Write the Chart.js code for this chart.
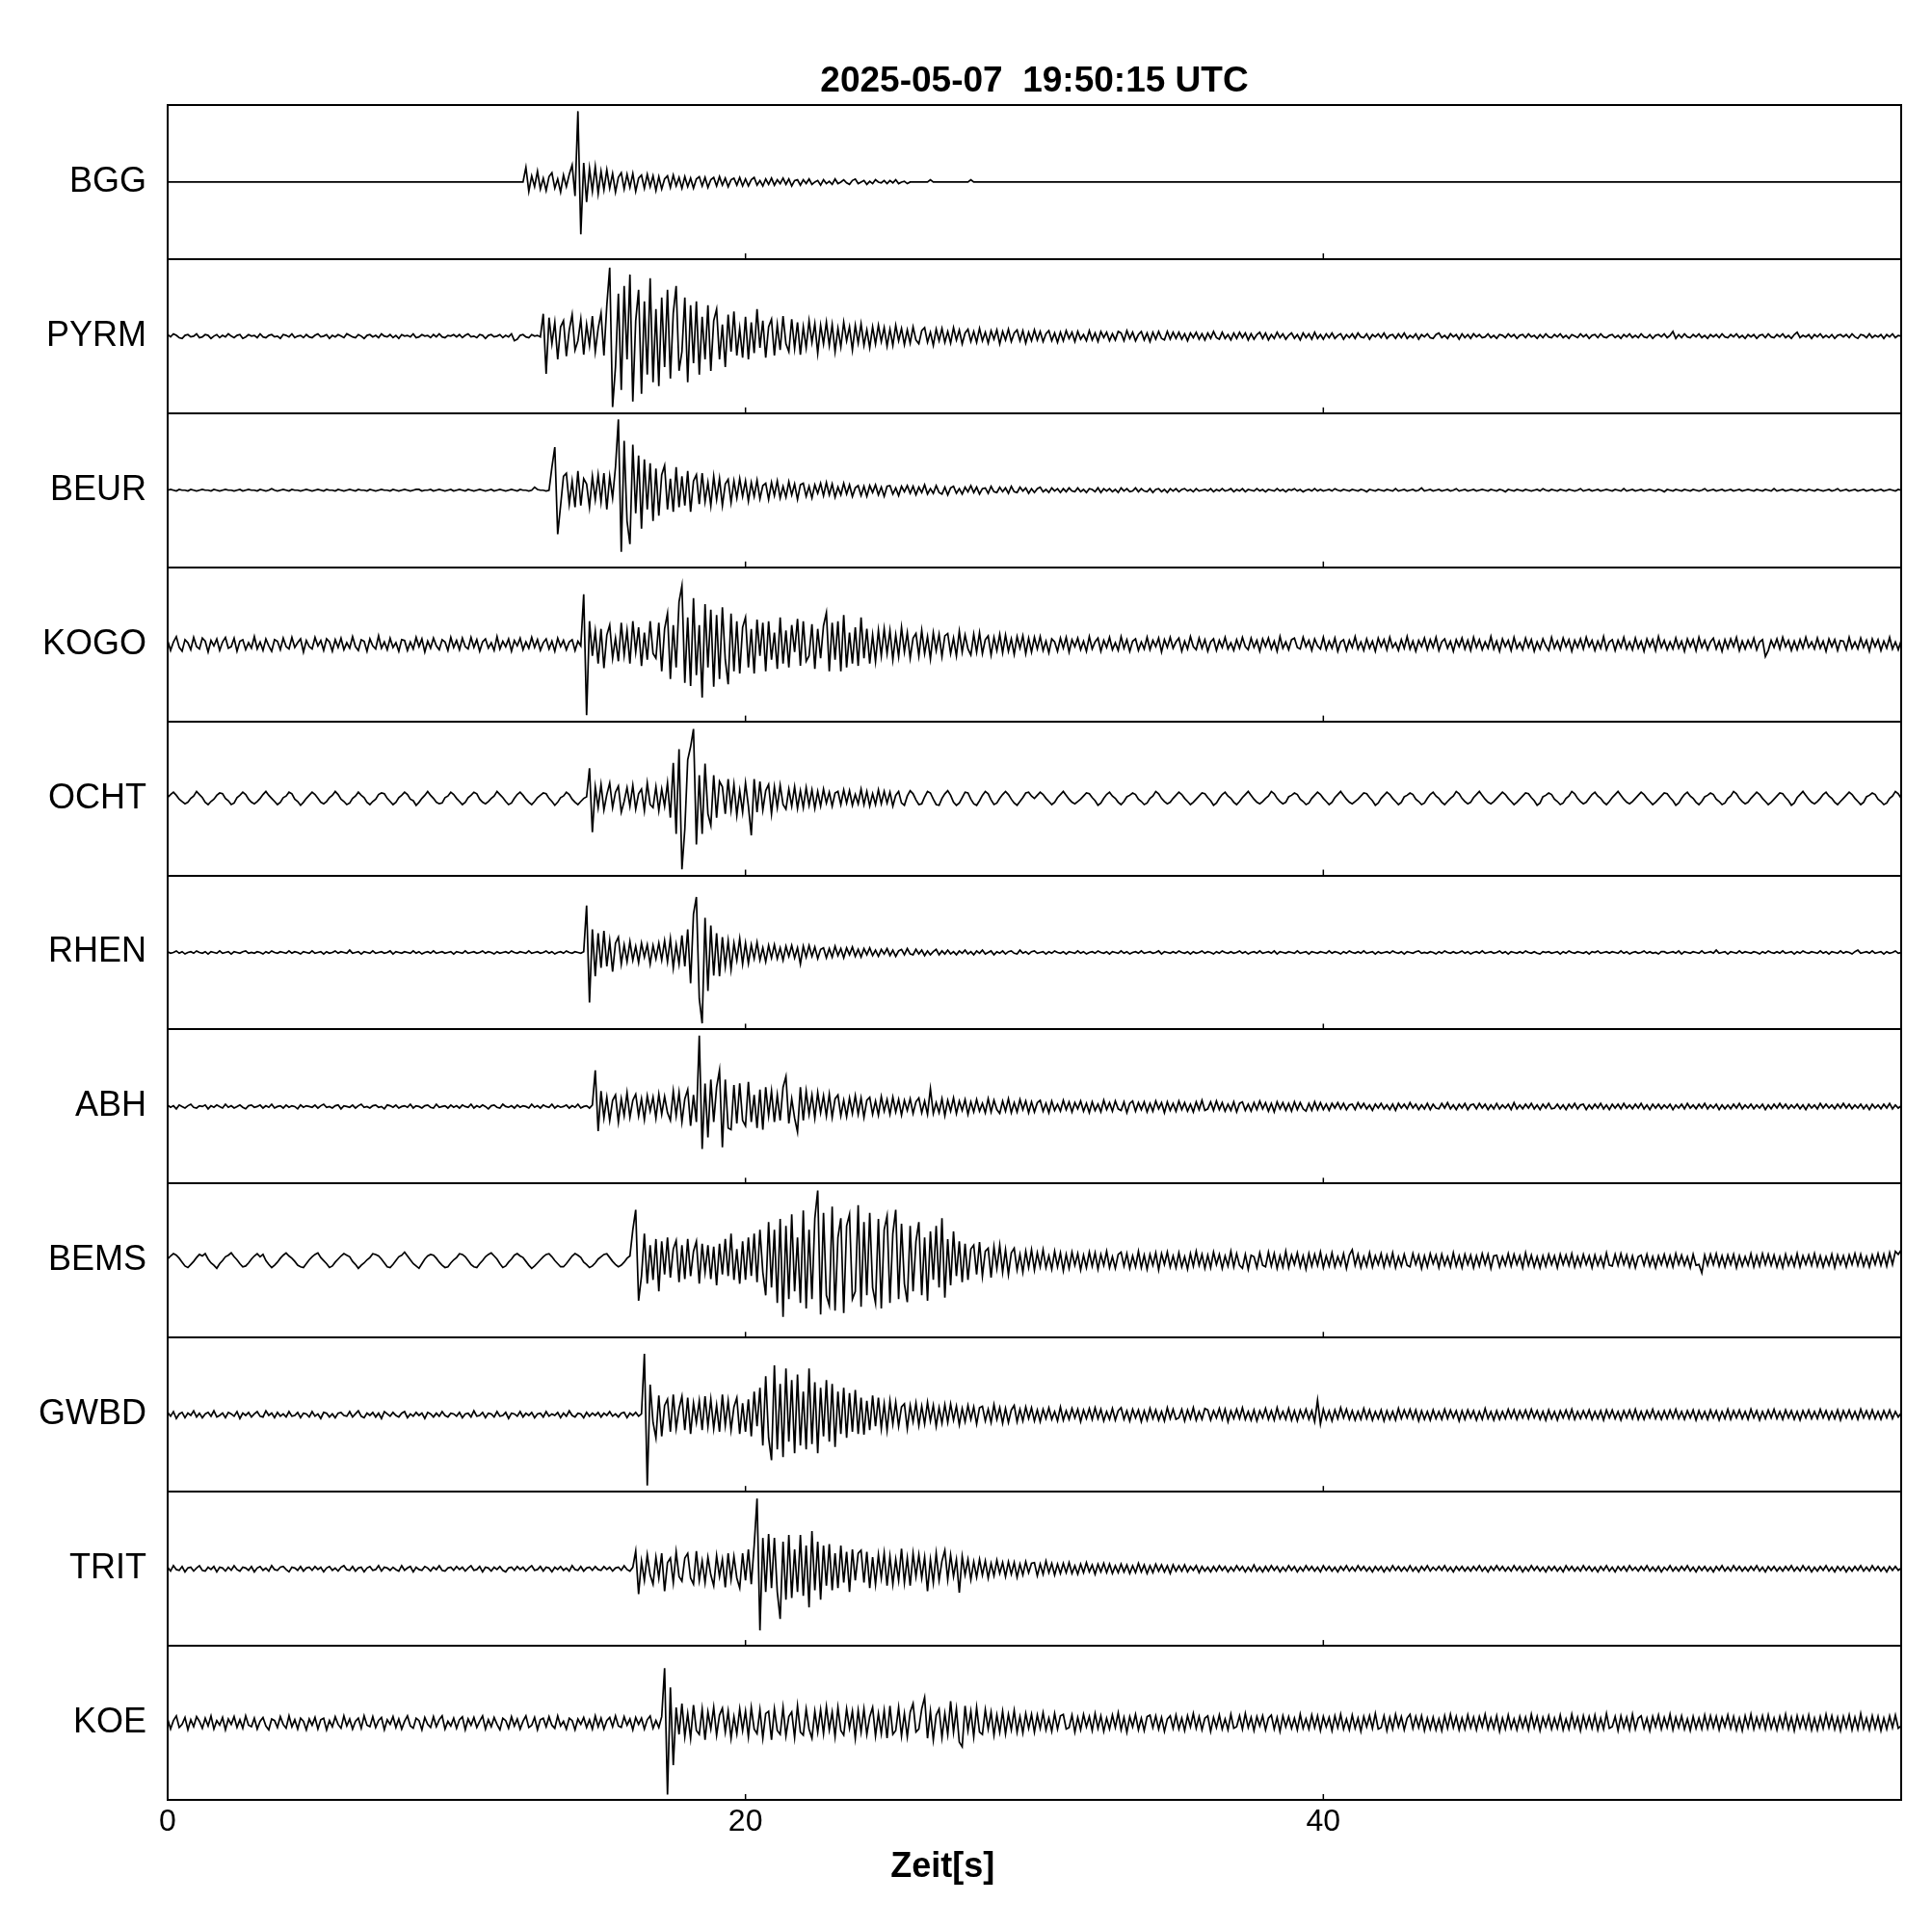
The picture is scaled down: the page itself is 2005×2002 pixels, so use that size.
<!DOCTYPE html>
<html>
<head>
<meta charset="utf-8">
<script src="https://cdn.jsdelivr.net/npm/chart.js@4.4.1/dist/chart.umd.min.js"></script>
<style>
  html, body { margin: 0; padding: 0; background: #fff; }
  canvas { display: block; }
</style>
</head>
<body>
<canvas id="seismo" width="2005" height="2002"></canvas>
<script>
// sample interval of the traces in seconds, amplitudes in % of half a panel
const dt = 0.1;
const stations = ['BGG', 'PYRM', 'BEUR', 'KOGO', 'OCHT', 'RHEN', 'ABH', 'BEMS', 'GWBD', 'TRIT', 'KOE'];
const xTicks = [0, 20, 40];
const titleText = '2025-05-07  19:50:15 UTC';
const xLabel = 'Zeit[s]';

const bgg = [
  0,0,0,0,0,0,0,0,0,0, 0,0,0,0,0,0,0,0,0,0, 0,0,0,0,0,0,0,0,0,0, 0,0,0,0,0,0,0,0,0,0, 0,0,0,0,0,0,0,0,0,0,
  0,0,0,0,0,0,0,0,0,0, 0,0,0,0,0,0,0,0,0,0, 0,0,0,0,0,0,0,0,0,0, 0,0,0,0,0,0,0,0,0,0, 0,0,0,0,0,0,0,0,0,0,
  0,0,0,0,0,0,0,0,0,0, 0,0,0,0,0,0,0,0,0,0, 0,0,0,0,19,-12,8,-6,14,-9, 5,-11,7,12,-8,4,-13,9,-6,10, 22,-18,92,-68,25,-26,18,-12,20,-15,
  14,-10,16,-8,11,-13,6,12,-9,10, -7,11,-12,5,9,-8,10,-6,8,-11, 7,-9,4,8,-7,9,-5,6,-8,7, -6,5,-8,4,7,-5,6,-7,3,6, -5,7,-4,5,-6,3,5,-4,6,-5,
  4,-5,3,6,-4,2,-5,4,-3,5, -4,3,-2,5,-3,4,-5,2,3,-4, 3,-2,4,-3,0,2,-4,3,-2,1, -3,4,-2,0,3,-1,-3,2,4,-2, 0,2,-3,1,-2,3,0,-1,2,-2,
  2,-1,3,-2,0,1,-2,0,0,0, 0,0,0,0,3,0,0,0,0,0, 0,0,0,0,0,0,0,0,3,0, 0,0,0,0,0,0,0,0,0,0, 0,0,0,0,0,0,0,0,0,0,
  0,0,0,0,0,0,0,0,0,0, 0,0,0,0,0,0,0,0,0,0, 0,0,0,0,0,0,0,0,0,0, 0,0,0,0,0,0,0,0,0,0, 0,0,0,0,0,0,0,0,0,0,
  0,0,0,0,0,0,0,0,0,0, 0,0,0,0,0,0,0,0,0,0, 0,0,0,0,0,0,0,0,0,0, 0,0,0,0,0,0,0,0,0,0, 0,0,0,0,0,0,0,0,0,0,
  0,0,0,0,0,0,0,0,0,0, 0,0,0,0,0,0,0,0,0,0, 0,0,0,0,0,0,0,0,0,0, 0,0,0,0,0,0,0,0,0,0, 0,0,0,0,0,0,0,0,0,0,
  0,0,0,0,0,0,0,0,0,0, 0,0,0,0,0,0,0,0,0,0, 0,0,0,0,0,0,0,0,0,0, 0,0,0,0,0,0,0,0,0,0, 0,0,0,0,0,0,0,0,0,0,
  0,0,0,0,0,0,0,0,0,0, 0,0,0,0,0,0,0,0,0,0, 0,0,0,0,0,0,0,0,0,0, 0,0,0,0,0,0,0,0,0,0, 0,0,0,0,0,0,0,0,0,0,
  0,0,0,0,0,0,0,0,0,0, 0,0,0,0,0,0,0,0,0,0, 0,0,0,0,0,0,0,0,0,0, 0,0,0,0,0,0,0,0,0,0, 0,0,0,0,0,0,0,0,0,0,
  0
];
const pyrm = [
  2,-1,3,1,-2,-3,1,2,-1,0, 3,-2,-1,2,1,-3,0,2,-2,1, -1,3,0,-2,1,2,-3,-1,2,0, 1,-2,3,-1,-2,1,2,-1,0,-3, 2,1,-1,3,-2,0,1,-2,2,-1,
  -2,1,3,-1,0,2,-3,1,-1,2, 0,-2,3,1,-1,-2,2,0,-3,1, 2,-1,1,-2,3,0,-1,2,-2,1, -3,2,0,1,-1,3,-2,-1,2,0, 1,-2,2,-1,3,-1,-2,1,0,2,
  -1,2,-2,1,3,-1,0,-2,2,1, -3,1,2,-1,0,2,-2,1,-1,3, -6,-4,1,2,-1,-2,2,0,1,-1, 29,-49,24,-10,18,-30,12,20,-26,8, 28,-18,-6,22,-24,15,-12,26,-20,10,
  30,-25,40,89,-92,-40,55,-70,65,-30, 80,-85,20,60,-75,45,-50,75,-60,35, -65,50,-40,60,-55,30,65,-45,-20,50, -60,40,-35,45,-50,25,-30,40,-45,20, 35,-30,15,-40,28,-20,32,-25,10,-28,
  25,-30,18,-22,35,-15,20,-28,12,22, -25,15,-18,26,-10,-20,22,-16,18,-24, 12,-15,20,-8,16,-22,14,-10,18,-12, 15,-20,10,-14,18,-6,12,-18,14,-9, 16,-12,8,-15,12,-10,14,-7,11,-13,
  9,-12,14,-6,10,-11,8,-9,12,-5, -10,7,11,-8,5,-12,9,-6,10,-8, 6,-9,11,-5,8,-10,4,9,-7,6, -8,10,-6,5,-9,7,-4,8,-10,6, -5,9,-7,4,8,-6,7,-9,5,-6,
  8,-5,6,-7,3,7,-6,4,-8,5, -6,7,-3,5,-7,6,-4,2,-6,7, -5,4,-7,6,-2,5,-6,3,-5,6, 4,-6,7,-3,5,-6,2,6,-5,4, -7,5,-4,6,-3,-5,6,-4,5,-3,
  5,-4,3,-6,4,-2,5,-4,3,-5, 4,-3,6,-2,-4,5,-3,2,-5,4, -3,5,-2,4,-5,3,-4,2,5,-3, 4,-5,2,-3,5,-2,3,-4,1,4, -3,2,-5,4,-2,3,-4,5,-3,2,
  -4,3,-2,4,-3,1,3,-4,2,-2, 3,-3,4,-1,-2,3,-4,2,-1,3, -2,4,-3,1,2,-3,3,-2,4,-3, 1,-2,3,-4,2,-1,3,-2,-3,2, 4,-2,1,-3,3,-1,2,-4,3,-2,
  2,-3,3,-1,2,-2,-1,3,-2,1, -3,2,1,-2,3,-1,2,-3,1,2, -2,3,-1,1,-3,2,-2,3,-1,-2, 2,-1,3,-2,1,-3,2,0,-2,3, -1,2,-3,1,2,-2,3,-1,-2,1,
  2,-2,1,-3,2,-1,3,-2,1,-2, 3,-1,-2,2,-3,1,2,-1,3,-2, 1,6,-3,2,-2,3,-1,-2,2,-1, 3,-2,1,-3,2,-1,2,-2,3,-1, -2,2,-1,3,-2,1,-3,2,-1,2,
  -3,1,2,-2,3,-1,-2,2,-1,3, -2,1,-3,2,5,-2,1,-1,2,-3, 2,-1,3,-2,1,-2,2,-3,1,2, -1,2,-2,3,-1,-3,2,1,-2,3, -2,1,-1,2,-3,2,-1,3,-2,1,
  0
];
const beur = [
  0,1,0,-1,1,0,0,-1,1,0, -1,0,1,0,0,-1,1,0,-1,0, 1,0,0,-1,0,1,-1,0,1,0, 0,-1,1,0,-1,0,2,0,-1,0, 1,0,-1,1,0,0,-1,0,1,0,
  -1,0,1,0,-1,1,0,0,-1,1, 0,-1,0,1,0,-1,1,0,0,-1, 1,0,-1,0,1,0,0,-1,1,0, -1,0,1,0,-1,0,1,1,-1,0, 0,1,-1,0,1,0,-1,0,1,-1,
  0,1,0,-1,1,0,-1,0,1,0, -1,0,1,-1,0,1,0,-1,0,1, 0,-1,1,0,0,-1,0,4,1,0, 0,-1,0,30,56,-57,-20,18,22,-18, 12,-22,25,-20,15,8,-22,18,-12,20,
  -15,22,-25,18,-10,30,92,-80,64,-40, -70,59,-30,45,-50,40,-25,35,-40,28, -33,20,32,-25,15,-28,30,-22,18,-20, 25,-28,12,20,-18,22,-15,10,-20,18, -12,15,-20,8,14,-16,12,-10,15,-8,
  12,-14,10,-8,13,-11,6,9,-12,10, -7,12,-10,5,-9,11,-6,8,-12,7, 9,-8,5,-10,7,-4,9,-7,10,-6, 8,-9,4,-6,9,-5,7,-8,3,6, -7,5,-8,6,-3,7,-6,4,-8,5,
  6,-5,3,-7,5,-2,6,-4,5,-6, 4,-3,7,-5,2,-4,6,-3,-5,4, -6,3,5,-4,2,-5,4,-2,6,-3, 4,-5,2,3,-4,5,-2,-3,4,-2, 3,-4,5,-2,-3,4,-1,3,-4,2,
  -3,2,4,-2,1,-3,3,-1,2,-3, 2,-2,3,-1,-2,3,-2,1,-3,2, 1,-2,3,-3,2,-1,2,-2,1,-3, 3,-1,2,-2,-1,3,-2,2,-1,-2, 2,-3,1,2,-2,1,-3,2,-1,2,
  -2,1,2,-1,1,-2,2,-1,0,1, -1,2,-2,1,-1,2,-1,0,2,-2, 1,-1,2,-2,1,0,-1,2,-1,1, -2,1,0,-1,2,-1,1,-2,1,0, 2,-1,1,-2,0,1,-1,2,-1,1,
  -1,0,1,-1,2,0,-1,1,0,-1, 1,0,-1,1,0,-2,1,0,-1,1, 0,-1,1,0,-1,2,-1,0,1,-1, 0,1,-1,0,3,-1,0,1,-1,0, 1,-1,0,1,-1,0,2,-1,0,1,
  -1,0,1,-1,0,1,0,-1,1,0, -1,1,0,-2,1,0,-1,1,0,-1, 1,0,-1,0,1,-1,2,0,-1,1, 0,-1,1,0,-1,1,0,-1,0,2, -1,0,1,-1,0,1,-1,0,1,0,
  -1,1,0,-1,2,-1,0,1,-1,0, 1,-1,0,1,0,-1,1,0,-2,1, 0,-1,1,0,-1,1,0,-1,1,0, -1,0,2,-1,0,1,-1,0,1,-1, 0,1,-1,0,1,-1,0,1,0,-1,
  1,0,-1,1,0,-1,2,-1,0,1, -1,0,1,0,-1,1,0,-1,1,0, -1,1,0,-1,0,1,-1,0,2,-1, 0,1,-1,0,1,-1,0,1,-1,0, 1,-1,0,1,-1,0,1,0,-1,1,
  0
];
const kogo = [
  5,-8,3,10,-4,-9,6,2,-7,9, -3,-6,8,4,-10,5,-2,7,-8,3, 9,-5,-3,8,-9,4,6,-7,2,-5, 10,-6,3,-8,7,-2,-9,6,4,-7, 8,-3,-6,9,-4,2,7,-10,5,-3,
  -6,9,-2,5,-8,7,3,-9,6,-4, 8,-7,2,-5,10,-3,-8,6,4,-9, 7,-2,-6,11,-5,3,-7,8,-4,2, -9,6,5,-8,3,-6,9,-3,7,-10, 4,-5,8,-2,-7,6,3,-8,9,-4,
  5,-7,8,-3,-6,9,-4,6,-9,3, 7,-5,2,-8,10,-6,4,-3,7,-9, 5,-2,8,-7,3,-5,9,-4,6,-8, 2,7,-6,4,-9,8,-3,5,-7,3, 6,-8,4,-2,65,-92,30,-15,17,-25,
  20,-31,12,25,-18,8,-22,28,-14,18, -25,30,-10,22,-28,15,-20,30,-12,-18, 28,-35,20,40,-45,25,-30,55,76,-50, 35,-54,60,-40,25,-69,52,-30,45,-55, 38,-45,48,-20,-52,40,-35,30,-38,22,
  35,-30,20,-38,32,-15,28,-35,30,-20, 15,-32,35,-25,18,-30,25,-10,33,-28, 30,-22,-15,26,-32,20,-18,24,41,-35, 28,-20,30,-35,38,-30,15,-25,22,-28, 35,-18,20,-25,12,-22,18,-15,20,-12,
  18,-20,12,-16,22,-10,15,-18,8,14, -15,18,-12,10,-19,15,-8,13,-16,11, 14,-12,8,-15,17,-10,12,-6,-14,13, -10,15,-12,6,11,-14,9,-8,13,-11, 12,-9,7,-13,10,-5,11,-12,8,-10,
  9,-6,10,-8,4,-11,7,3,-9,8, -5,9,-10,6,-3,8,-7,4,-9,10, -6,3,8,-9,5,-4,9,-7,2,-8, 10,-5,6,-9,4,7,-8,3,-6,9, -7,5,-3,8,-10,6,-4,9,-5,3,
  8,-9,4,-6,10,-3,-7,8,-5,6, -9,3,7,-8,5,-4,9,-6,2,-8, 6,-5,9,-3,-7,8,-4,5,-9,7, -3,8,-6,4,-9,10,-5,3,-7,6, 8,-4,-6,9,-3,5,-8,7,-2,-6,
  9,-7,4,-5,8,-9,3,6,-8,5, -4,10,-6,3,-8,7,-5,4,-9,8, -3,6,-7,9,-4,2,-8,6,-5,10, -6,4,-9,5,-3,8,-7,6,-4,9, -8,3,7,-5,4,-9,6,-3,8,-6,
  5,-8,9,-4,6,-7,3,-5,10,-6, 4,-9,7,-3,5,-8,9,-5,2,-7, 8,-4,6,-9,3,-6,7,-2,-8,9, -5,4,-7,8,-3,6,-9,5,-4,7, -6,9,-3,5,-8,4,-5,10,-7,3,
  6,-8,5,-4,9,-6,3,-7,8,-5, 4,-9,7,-3,6,-8,10,-4,5,-7, 3,-6,8,-5,4,-9,7,-3,6,-8, 9,-4,5,-7,3,8,-6,4,-9,6, -5,7,-3,9,-8,4,-6,5,-4,8,
  -7,3,6,-16,-8,5,-4,7,-6,9, -3,5,-8,4,-7,6,-5,9,-4,3, -6,8,-5,4,-9,7,-3,6,-8,5, 4,-7,9,-5,3,-6,8,-4,5,-9, 7,-3,6,-8,4,-5,9,-6,3,-7,
  5
];
const ocht = [
  1,5,8,4,-1,-4,-7,-5,0,3, 9,5,1,-5,-8,-4,-1,4,7,6, 0,-3,-8,-6,1,4,8,5,-1,-5, -7,-4,0,5,9,4,0,-4,-8,-5, 1,3,8,6,-1,-4,-9,-5,0,4,
  8,5,0,-5,-7,-4,1,4,9,5, -1,-4,-8,-6,0,3,8,4,1,-5, -8,-4,-1,5,7,6,0,-4,-8,-5, 1,4,8,5,-1,-3,-9,-5,0,4, 9,4,0,-5,-7,-6,1,3,8,5,
  0,-4,-8,-5,1,4,8,6,-1,-5, -7,-4,0,3,9,5,1,-4,-8,-6, 0,5,8,4,-1,-5,-8,-4,1,4, 7,6,0,-4,-9,-5,1,3,8,5, -1,-5,-8,-4,0,2,39,-44,15,-12,
  18,-15,5,20,-12,8,16,-18,-4,14, -10,17,-14,6,12,-16,20,-8,-12,15, -16,12,-10,20,-25,46,-46,64,-92,-40, 50,67,90,-60,30,-46,45,-20,-35,30, -25,22,15,-20,25,-15,18,-22,10,-18,
  20,-10,-48,25,-18,22,-15,10,18,-20, 15,-12,17,-8,-14,12,-10,15,-13,10, -12,14,-9,11,-13,9,-10,12,-6,8, -10,7,9,-8,11,-6,10,-9,5,-7, 12,-8,9,-10,6,-8,11,-7,9,-6,
  8,-10,4,9,-6,-9,3,10,6,-2, -8,-7,2,9,7,-1,-8,-9,0,6, 10,4,-5,-9,-6,1,8,7,-1,-7, -9,-3,4,9,6,-2,-8,-6,0,5, 9,5,-1,-6,-9,-4,1,7,8,3,
  0,4,8,5,0,-4,-8,-5,1,5, 9,4,-1,-5,-7,-4,-1,3,7,6, 1,-3,-9,-6,0,5,8,3,0,-5, -8,-4,2,4,7,5,-1,-4,-8,-6, 0,3,9,6,0,-4,-7,-5,0,4,
  8,5,0,-4,-8,-5,-1,3,7,6, 1,-3,-9,-6,0,5,8,3,0,-5, -8,-4,1,5,9,4,-1,-5,-7,-4, 0,3,9,6,0,-4,-7,-5,2,4, 7,5,-1,-4,-8,-6,0,4,8,5,
  0,-4,-8,-5,1,5,9,4,-1,-5, -7,-4,-1,3,7,6,1,-3,-9,-6, 0,4,8,5,0,-4,-8,-5,2,4, 7,5,-1,-4,-8,-6,0,5,8,3, 0,-5,-8,-4,0,3,9,6,0,-4,
  -7,-5,1,5,9,4,-1,-5,-7,-4, 0,4,8,5,0,-4,-8,-5,-1,3, 7,6,1,-3,-9,-6,2,4,7,5, -1,-4,-8,-6,0,3,9,6,0,-4, -7,-5,0,5,8,3,0,-5,-8,-4,
  1,5,9,4,-1,-5,-7,-4,0,4, 8,5,0,-4,-8,-5,-1,3,7,6, 1,-3,-9,-6,0,5,8,3,0,-5, -8,-4,2,4,7,5,-1,-4,-8,-6, 0,3,9,6,0,-4,-7,-5,0,4,
  8,5,0,-4,-8,-5,-1,3,7,6, 1,-3,-9,-6,1,5,9,4,-1,-5, -7,-4,0,5,8,3,0,-5,-8,-4, 0,4,8,5,0,-4,-8,-5,2,4, 7,5,-1,-4,-8,-6,0,3,9,6,
  0
];
const rhen = [
  1,-1,0,2,-1,1,-2,0,1,-1, 2,0,-1,1,-2,1,0,-1,2,-1, 0,1,-2,1,0,-1,1,2,-1,0, -1,1,0,-2,1,-1,2,0,-1,1, 0,-1,2,-1,1,0,-2,1,0,-1,
  2,-1,0,1,-2,1,-1,0,2,-1, 1,0,-1,3,-1,0,1,-2,1,0, -1,2,-1,0,1,-1,0,2,-2,1, 0,-1,1,0,-1,2,-1,1,-2,0, 1,-1,2,-1,0,1,-1,0,1,-2,
  1,0,-1,2,-1,0,1,-1,0,2, -1,1,0,-2,1,-1,0,1,-1,2, 0,-1,1,0,-1,2,-1,0,1,-1, 0,2,-1,1,-2,0,1,-1,2,0, -1,1,0,-1,1,61,-65,30,-31,25,
  -20,28,-18,15,-25,12,20,-15,10,-12, 14,-10,8,-13,12,-6,10,-15,9,-8, 12,-10,15,-12,18,-20,10,-15,22,-18, 30,-40,50,72,-60,-92,45,-50,35,-30, 25,-31,20,-18,15,-22,12,-10,18,-15,
  12,-14,10,-8,13,-10,6,-12,9,-7, 10,-8,6,-10,8,-5,9,-7,6,-15, 8,-6,9,-5,7,-8,4,6,-7,5, -6,8,-4,5,-7,6,-3,7,-5,4, -6,5,-3,6,-4,3,-5,4,-2,5,
  -4,3,-5,2,4,-3,5,-2,-3,4, -2,3,-4,2,-3,1,4,-3,2,-2, 3,-2,1,-3,2,-1,3,-2,1,-3, 2,-1,3,-2,0,2,-3,1,-1,2, -2,1,2,-1,-2,3,-1,1,-2,1,
  2,-1,0,1,-2,1,-1,2,0,-1, 1,-2,1,0,-1,2,-1,1,-2,0, 1,-1,2,0,-1,1,-2,1,0,-1, 2,-1,1,-2,0,1,-1,2,-1,0, 1,-1,0,2,-2,1,0,-1,1,-1,
  2,0,-1,1,-2,1,-1,0,2,-1, 1,0,-2,1,-1,2,0,-1,1,-1, 0,2,-1,1,-2,0,1,-1,2,-1, 0,1,-1,2,-2,1,0,-1,1,0, -1,2,-1,0,1,-2,1,0,-1,1,
  0,-1,2,-1,1,0,-2,1,-1,2, 0,-1,1,-1,2,-1,0,1,-2,1, -1,0,1,-1,2,0,-1,1,-2,1, 0,-1,1,2,-1,0,-1,1,0,-2, 1,-1,2,0,-1,1,-1,0,2,-1,
  1,-2,0,1,-1,2,-1,0,1,-1, 0,2,-1,1,-2,1,0,-1,1,-1, 2,0,-1,1,-1,-2,1,0,1,-1, 0,1,-2,1,-1,2,0,-1,1,0, -1,1,-2,1,0,2,-1,0,1,-1,
  1,0,-1,2,-1,1,-2,0,1,-1, 0,2,-1,1,-1,0,-2,1,1,-1, 0,1,-1,2,-2,1,0,-1,1,0, -1,2,-1,0,1,-1,3,-1,0,1, -2,1,0,-1,2,-1,1,0,-1,1,
  0,-2,1,-1,2,0,-1,1,-1,2, -1,0,1,-2,1,-1,2,0,-1,1, 0,-1,2,-1,1,-2,1,0,-1,2, -1,1,0,-2,1,3,-1,0,1,-1, 2,-1,0,1,-2,1,-1,0,2,-1,
  0
];
const abh = [
  2,-1,1,-3,2,0,-2,1,3,-1, -2,1,0,2,-3,1,-1,2,0,-2, 3,-1,1,-2,0,2,-1,-3,1,2, -1,0,2,-2,1,-1,3,-2,0,1, -2,2,-1,1,0,-3,2,-1,1,0,
  -1,2,-2,1,3,-1,0,-2,1,2, -3,1,0,-1,2,-2,1,3,-1,0, -2,1,2,-1,0,-3,2,1,-1,2, -2,0,1,-1,3,-2,1,0,-2,1, 2,-1,-2,3,-1,0,1,-2,2,-1,
  1,-2,2,0,-1,3,-2,1,-1,2, 0,-3,1,2,-1,-2,3,0,-1,1, -2,2,-1,1,0,-2,3,-1,1,-2, 2,0,-1,3,-2,1,-1,0,2,-2, 1,-1,3,-2,0,1,-2,2,47,-32,
  20,-15,12,-18,8,15,-20,10,-12,18, -14,8,16,-12,10,-17,14,-6,12,-15, 16,-10,13,-8,-18,20,-12,18,-20,10, 22,-25,15,-20,92,-55,30,-40,35,-20, 25,47,-53,35,-28,-30,28,-22,30,-18,
  -25,32,-20,15,-28,22,-30,25,-12,20, -20,15,-18,25,39,-22,10,-15,-33,25, -18,20,-10,15,-15,18,-8,14,-12,16, -14,10,15,-12,8,-13,11,-9,14,-10, 11,-14,8,12,-10,7,-11,13,-6,9,
  -10,12,-7,9,-11,8,-5,10,-9,6, 11,-8,7,-10,23,-9,5,-8,10,-12, 8,-6,11,-9,7,-5,9,-10,6,-7, 9,-6,4,-8,10,-7,8,-4,-9,7, -6,10,-8,5,-7,9,-4,7,-8,6,
  -7,5,8,-6,4,-8,7,-5,3,-6, 8,-4,6,-7,5,-3,7,-6,4,-8, 6,-5,3,-7,8,-4,5,-6,7,-3, -5,6,-8,4,7,-6,5,-4,6,-7, 4,-6,7,-3,5,-8,6,-5,4,-6,
  7,-4,5,-6,3,-7,6,-4,8,-5, -3,6,-5,7,-4,5,-6,3,-5,6, -7,4,6,-5,3,-6,5,-4,7,-3, 5,-6,4,-7,6,-3,5,-5,4,-6, 6,-4,5,-3,-6,4,-5,6,-4,5,
  -4,3,-5,4,-2,5,-3,4,-4,2, 3,-4,5,-2,4,-3,2,-5,3,-2, 4,-3,2,-4,3,-5,4,-2,3,-3, 5,-2,3,-4,2,-3,4,-4,3,-2, -3,4,-2,5,-3,2,-4,3,-2,4,
  -4,2,3,-3,4,-2,3,-4,2,-3, 4,-3,2,-2,3,-4,5,-3,2,-3, 3,-2,4,-3,2,-4,3,-2,4,-3, -2,3,-3,2,-4,3,-2,4,-3,2, 3,-4,2,-3,3,-2,4,-3,2,-4,
  3,-2,3,-3,4,-2,2,-3,3,-2, 4,-3,2,-4,3,-2,3,-3,2,-2, 3,-4,2,-2,3,-3,4,-2,2,-3, 3,-2,4,-3,2,-2,3,-4,2,-3, 2,-3,3,-2,4,-3,2,-2,3,-3,
  2,-2,3,-4,2,-3,3,-2,4,-2, 3,-3,2,-2,3,-3,2,-4,3,-2, 2,-3,4,-2,3,-2,2,-3,3,-2, 4,-2,3,-3,2,-2,3,-3,2,-4, 3,-2,2,-3,3,-2,4,-3,2,-2,
  1
];
const bems = [
  2,6,9,7,3,-2,-7,-9,-5,-1, 4,8,6,9,2,-3,-6,-10,-4,0, 5,7,10,5,1,-4,-8,-7,-3,2, 6,9,5,8,0,-5,-9,-6,-2,3, 7,10,6,3,-1,-6,-8,-9,-4,1,
  5,8,10,4,0,-4,-9,-7,-2,2, 6,9,7,5,-1,-5,-10,-6,-3,1, 4,9,8,6,2,-3,-8,-9,-5,0, 5,7,11,6,1,-4,-7,-10,-4,2, 6,8,7,3,-2,-6,-9,-8,-3,1,
  4,9,8,5,0,-5,-8,-9,-4,0, 5,8,10,6,2,-4,-9,-7,-2,2, 7,9,6,4,-1,-6,-10,-7,-3,1, 5,8,9,5,0,-4,-8,-8,-4,1, 6,9,7,4,-2,-5,-9,-7,-3,2,
  5,8,9,4,-1,-5,-8,-6,-2,3, 6,40,66,-52,-20,35,-30,20,-25,28, -40,25,-18,30,-22,15,26,-28,20,-24, 28,-20,12,25,-30,22,-15,20,-24,18, -32,22,-18,28,-20,35,-25,15,-30,25,
  -25,30,-20,35,-28,40,-15,-45,50,-35, 40,-55,54,-73,45,-50,60,-40,30,-55, 65,-62,40,-50,55,91,-70,62,-45,-58, 70,-65,30,55,-68,45,60,-50,-40,72, -60,50,-45,62,-35,-55,54,-62,40,58,
  -55,35,66,-50,48,-30,-54,45,-40,25, 50,-45,30,-52,38,-25,45,-35,55,-48, 28,-32,38,-20,25,-28,22,-25,15,20, -18,24,-20,12,16,-22,18,-10,20,-15, 14,-18,10,16,-12,8,-15,12,-9,14,
  -12,10,-8,14,-9,6,-11,12,-8,10, -13,8,-10,11,-6,9,-12,7,-9,11, -7,10,-11,8,-6,12,-9,5,-10,8, 11,-7,9,-10,6,-8,12,-9,7,-11, 8,-6,10,-12,9,-5,11,-8,6,-9,
  10,-8,5,-11,9,-7,12,-6,8,-10, 7,-9,11,-5,8,-10,6,-7,12,-8, 9,-6,-10,8,-11,7,5,-9,10,-6, -8,11,-7,9,-10,6,-8,12,-9,7, -5,10,-8,6,-11,9,-7,8,-6,11,
  -9,6,-7,10,-8,5,-6,9,-10,7, 14,-6,8,-9,5,-7,10,-8,6,-5, 9,-8,7,-6,10,-9,5,-7,8,-6, -8,9,-5,7,-10,6,-8,9,-4,7, -9,8,-6,5,-8,10,-7,6,-9,8,
  -5,7,-9,6,-7,9,-5,8,-10,6, 7,-8,5,-6,9,-7,8,-5,6,-9, 10,-6,7,-8,5,-9,6,-7,8,-5, 6,-9,8,-5,7,-6,9,-8,5,-7, 8,-5,6,-9,7,-6,5,-8,10,-6,
  -7,8,-6,9,-5,7,-8,6,-9,5, 7,-6,8,-7,5,-9,6,-5,8,-7, 6,-8,9,-5,7,-6,5,-9,8,-6, -5,-16,7,-6,8,-5,9,-7,6,-8, 7,-5,8,-9,6,-7,5,-6,9,-8,
  6,-7,9,-5,8,-6,7,-8,5,-9, 8,-6,5,-7,9,-8,6,-5,7,-6, 9,-7,6,-8,5,-6,8,-9,7,-5, 6,-8,7,-5,9,-6,8,-7,5,-8, 7,-5,9,-6,8,-7,10,-5,12,8,
  14
];
const gwbd = [
  3,-2,4,-5,1,3,-4,2,-1,5, -3,2,-4,1,3,-2,5,-3,-1,2, -4,3,1,-2,4,-5,2,-1,3,-3, 1,4,-2,-3,5,-1,2,-4,3,-2, 1,-3,4,-2,-1,3,-4,2,1,-3,
  4,-2,1,-5,3,2,-3,1,-4,2, 3,-1,-2,4,-3,1,5,-2,-4,2, -1,3,-3,2,-5,4,1,-2,3,-1, -3,2,4,-4,1,-2,3,-1,2,-5, 3,1,-3,2,-2,4,-1,-3,2,1,
  -2,3,-4,1,2,-3,5,-2,-1,3, -4,2,1,-3,4,-2,-1,3,-5,2, 1,-2,4,-3,2,-1,3,-4,1,2, -3,4,-2,1,-1,3,-4,2,-2,5, -1,-3,2,1,-4,3,-2,2,-1,3,
  -3,2,-1,4,-2,1,-3,2,3,-4, 2,-1,3,-2,1,79,-92,39,-10,-30, 25,-28,12,20,-22,26,-18,8,24,-20, 22,-25,15,-10,18,-20,24,-15,20,-18, 12,-22,26,-14,18,-20,10,22,-25,15,
  -22,20,-28,30,-15,35,-40,50,-30,-59, 64,-45,40,-55,60,-35,45,-50,52,-40, 30,-45,60,-38,42,-50,35,-28,45,-35, 40,-42,30,-25,35,-30,28,-22,32,-25, 22,-26,18,-20,25,-15,22,-18,14,-20,
  18,-12,16,-15,10,14,-18,12,-9,15, -14,11,-12,16,-8,12,-15,9,-11,13, -10,14,-7,11,-13,8,-9,12,-6,10, -12,9,11,-8,7,-10,13,-6,9,-11, 8,-10,6,12,-9,7,-8,10,-5,9,
  -8,6,-9,7,-5,9,-6,4,-8,10, -7,5,-6,8,-4,7,-9,6,-5,8, -6,9,-5,7,-8,4,-6,8,-7,5, 9,-6,5,-8,7,-4,6,-9,5,-7, 8,-5,6,-7,4,-8,9,-5,7,-6,
  -4,7,-8,6,-5,9,-7,4,-6,8, 6,-7,5,-4,8,-6,7,-9,5,-5, 7,-5,9,-6,4,-7,6,-8,5,-4, 8,-6,5,-7,9,-5,4,-6,8,-7, 5,-8,6,-4,7,-6,5,-9,19,-12,
  7,-6,5,-8,6,-5,9,-4,7,-6, 5,-7,4,-6,8,-5,6,-7,4,-5, 6,-8,5,-6,4,-7,8,-5,6,-4, 7,-5,6,-8,5,-6,4,-7,6,-5, 4,-6,7,-5,6,-4,5,-8,5,-6,
  6,-4,5,-7,4,-6,8,-5,4,-7, 5,-6,4,-5,7,-4,6,-6,5,-4, 6,-5,7,-4,5,-6,4,-7,6,-5, 4,-7,5,-4,6,-5,7,-6,4,-5, 5,-4,6,-6,4,-5,5,-7,6,-4,
  6,-5,4,-7,5,-4,6,-5,7,-6, 4,-6,5,-4,7,-5,4,-6,5,-5, 6,-4,7,-5,4,-6,5,-4,6,-7, 5,-5,4,-6,6,-4,5,-7,4,-5, 7,-6,5,-4,6,-5,4,-6,7,-4,
  5,-7,4,-5,6,-4,7,-5,4,-6, 6,-4,5,-6,4,-7,5,-4,6,-5, 4,-5,7,-4,5,-6,4,-5,6,-7, 5,-4,6,-5,4,-6,7,-4,5,-5, 6,-5,4,-6,5,-4,6,-5,4,-3,
  2
];
const trit = [
  2,-3,4,-1,-2,3,-4,1,2,-3, 1,4,-2,-3,2,-1,3,-4,2,1, -3,2,-2,4,-1,-3,2,1,-2,3, -4,1,3,-2,1,-3,4,-1,-2,2, 3,-1,-4,2,1,-2,3,-3,1,2,
  -2,3,-1,2,-4,1,3,-2,1,-3, 2,4,-1,-2,3,-3,1,2,-4,1, 3,-2,-1,4,-3,2,1,-2,2,-1, -3,4,-2,1,3,-4,2,-1,-2,3, 1,-3,2,-1,4,-2,-3,1,2,-2,
  3,-1,2,-3,1,4,-2,-1,3,-4, 2,1,-3,2,-1,3,-2,-4,1,2, -2,3,-1,2,-3,1,4,-2,-1,3, -3,2,1,-4,2,-1,3,-2,1,-3, 4,-1,-2,3,-3,1,2,-2,3,-1,
  -2,3,-1,2,-3,1,2,-2,4,-1, -3,2,23,-33,10,-15,18,-8,-20,15, -12,20,-29,8,14,-18,22,-10,-16,14, 20,-12,-20,23,-15,10,-18,15,-8,-22, 17,-10,12,-24,20,-14,16,-12,-25,20,
  -15,25,-20,30,91,-80,40,-30,45,-25, 40,-30,-65,35,-40,44,-38,25,-30,44, -35,30,-50,49,-28,35,-40,30,-22,32, -28,20,-25,30,-18,22,-30,25,-15,20, 24,-18,22,-25,15,-20,18,-12,20,-22,
  16,-20,12,-15,26,-18,14,-22,20,-10, 18,-12,15,-29,12,-18,20,-15,10,24, -14,18,-10,12,-31,16,-8,12,-14,9, -11,12,-8,10,-12,7,-9,11,-6,8, -10,9,-7,8,-11,6,-8,9,-5,7,
  8,-9,6,-7,10,-5,7,-8,6,-6, 7,-5,8,-6,4,-7,6,-5,8,-4, 5,-7,6,-4,7,-5,6,-6,4,-5, 6,-4,5,-6,4,-5,7,-4,5,-6, 4,-5,6,-3,5,-4,4,-6,5,-3,
  4,-3,5,-4,3,-2,4,-5,3,-3, 2,-4,3,-3,4,-2,3,-4,2,-3, 4,-2,3,-4,2,-3,5,-3,2,-4, 3,-3,4,-2,3,-4,2,-3,4,-2, 3,-4,2,-3,4,-2,3,-3,2,-4,
  4,-2,3,-3,2,-4,3,-2,4,-3, 2,-3,4,-2,3,-3,2,-4,3,-2, 3,-4,2,-3,4,-2,3,-3,2,-3, 4,-3,2,-4,3,-2,4,-3,2,-2, 3,-2,4,-3,2,-4,3,-2,3,-3,
  2,-3,3,-2,4,-3,2,-4,3,-2, 4,-2,3,-3,2,-3,4,-2,3,-4, 2,-3,4,-2,3,-3,2,-4,3,-2, 3,-3,2,-4,4,-2,3,-3,2,-3, 4,-2,3,-3,2,-4,3,-2,4,-3,
  2,-4,3,-2,3,-3,4,-2,2,-3, 3,-2,4,-3,2,-3,3,-4,2,-2, 4,-3,2,-3,3,-2,4,-3,2,-4, 3,-2,3,-3,2,-4,3,-2,4,-3, 2,-3,4,-2,3,-3,2,-3,3,-2,
  4,-3,2,-4,3,-2,3,-3,2,-3, 3,-2,4,-3,2,-3,4,-2,3,-4, 2,-3,3,-2,4,-3,2,-4,3,-2, 3,-4,2,-3,3,-2,4,-3,2,-3, 4,-2,3,-3,2,-4,3,-2,3,-2,
  1
];
const koe = [
  5,-8,3,9,-6,-2,7,-9,4,-5, 8,2,-7,6,-4,9,-8,3,-3,7, -9,5,-2,8,-6,4,-7,9,-3,-5, 6,-8,2,7,-4,-9,5,3,-6,8, -2,-7,9,-5,4,-8,6,2,-9,5,
  -3,7,-8,4,6,-9,3,-5,8,-2, -7,9,-4,5,-8,2,6,-7,9,-3, -5,8,-6,3,7,-9,4,-2,8,-6, 5,-8,2,9,-4,-7,6,3,-9,7, -2,-6,8,-5,4,9,-8,2,-4,6,
  -7,4,8,-9,5,-3,7,-6,2,9, -8,4,-5,7,-2,-9,6,3,-7,8, -4,5,-8,2,9,-6,-3,7,-9,4, 6,-5,8,-3,-7,9,-4,2,-8,6, 3,-9,5,-2,7,-6,4,-8,9,-5,
  6,-8,3,7,-5,9,-4,-6,8,-3, 5,-9,7,-2,6,-8,4,9,-7,3, -6,8,71,-93,46,-55,20,-15,25,-18, 12,-20,23,-10,-15,18,-22,14,-8,20, -16,10,19,-12,15,-20,8,-14,18,-10,
  15,-18,20,-8,-14,17,-20,12,15,-22, 18,-10,-15,20,-17,8,14,-19,22,-12, -16,18,-8,-20,15,-12,17,-14,21,-9, 14,-18,20,-10,-16,18,-7,15,-20,16, -12,18,-15,8,20,-17,12,-14,16,-20,
  22,-15,-10,20,-17,12,-18,14,25,-12, -8,18,33,-20,15,-22,10,18,-19,12, -15,28,-12,18,-25,-31,22,-10,15,-18, 20,-12,-15,17,-8,14,-16,10,-12,15, -14,11,-9,16,-12,8,-13,12,-7,11,
  -12,10,-7,13,-9,6,-11,12,-8,9, 11,-8,-6,10,-12,7,-9,11,-5,8, -10,12,-7,9,-11,6,-8,10,-6,13, -9,7,-12,8,-5,11,-9,6,-10,8, 10,-6,9,-8,7,-11,5,9,-7,10,
  -8,6,-10,9,-5,12,-7,8,-9,6, 9,-11,7,-6,10,-8,5,-9,11,-7, -5,9,-8,12,-6,7,-10,8,-4,9, -9,6,10,-8,7,-11,9,-5,8,-7, 6,-9,11,-7,5,-8,10,-6,9,-10,
  8,-5,7,-10,9,-6,11,-8,5,-9, 10,-7,6,-11,8,-5,9,-7,12,-8, -6,9,-10,7,-8,11,-5,8,-9,6, 11,-7,8,-6,9,-10,6,-8,7,-9, 5,-10,9,-7,11,-6,8,-9,6,-8,
  10,-6,7,-9,8,-5,11,-8,6,-7, 9,-11,6,-8,10,-7,5,-9,8,-6, 7,-9,11,-6,8,-10,7,-5,9,-8, 6,-7,10,-9,5,-8,11,-6,7,-10, 9,-6,8,-7,10,-9,6,-8,12,-7,
  -5,8,-10,9,-6,7,-9,11,-8,6, 9,-7,6,-10,8,-5,10,-8,7,-6, 11,-9,7,-6,9,-8,5,-10,8,-7, 6,-8,10,-7,9,-6,8,-9,7,-5, 10,-7,8,-9,6,-10,9,-6,11,-8,
  7,-6,9,-8,10,-7,6,-9,8,-6, 11,-8,7,-10,9,-6,8,-7,10,-9, 6,-9,8,-7,11,-6,9,-8,7,-10, 8,-6,10,-9,7,-8,12,-7,6,-9, 9,-7,8,-10,6,-8,9,-6,10,-7,
  -4
];
const traces = [bgg, pyrm, beur, kogo, ocht, rhen, abh, bems, gwbd, trit, koe];

const FONT = "'Liberation Sans', Arial, Helvetica, sans-serif";
Chart.defaults.font.family = FONT;
Chart.defaults.color = '#000';

// each station gets one unit of the y axis; 100 = half a panel
const datasets = traces.map((vals, i) => ({
  label: stations[i],
  data: vals.map((v, k) => ({ x: k * dt, y: 10.5 - i + v / 200 })),
  borderColor: '#000',
  borderWidth: 1.7,
  pointRadius: 0,
  tension: 0,
  fill: false
}));

// frame around the plot, the small time ticks at the foot of every panel, x label
const panelTicks = {
  id: 'panelTicks',
  afterDatasetsDraw(chart) {
    const { ctx, chartArea: a, scales: { x, y } } = chart;
    ctx.save();
    ctx.strokeStyle = '#000';
    ctx.lineWidth = 2;
    ctx.strokeRect(a.left, a.top, a.right - a.left, a.bottom - a.top);
    ctx.lineWidth = 1.5;
    for (let k = 0; k < stations.length; k++) {
      const py = y.getPixelForValue(k);
      xTicks.forEach(t => {
        if (t <= 0) return;
        const px = x.getPixelForValue(t);
        ctx.beginPath();
        ctx.moveTo(px, py);
        ctx.lineTo(px, py - 6);
        ctx.stroke();
      });
    }
    ctx.fillStyle = '#000';
    ctx.font = 'bold 36px ' + FONT;
    ctx.textAlign = 'center';
    ctx.textBaseline = 'middle';
    ctx.fillText(xLabel, a.left + (a.right - a.left) * 0.447, a.bottom + 70);
    ctx.restore();
  }
};

new Chart(document.getElementById('seismo'), {
  type: 'line',
  data: { datasets },
  options: {
    responsive: false,
    devicePixelRatio: 1,
    animation: false,
    parsing: false,
    normalized: true,
    layout: { padding: { left: 0, right: 32, top: 0, bottom: 0 } },
    plugins: {
      legend: { display: false },
      tooltip: { enabled: false },
      title: {
        display: true,
        fullSize: false,
        text: titleText,
        color: '#000',
        font: { size: 37, weight: 'bold' },
        padding: { top: 63, bottom: 1.6 }
      }
    },
    scales: {
      x: {
        type: 'linear',
        min: 0,
        max: 60,
        afterBuildTicks: s => { s.ticks = xTicks.map(v => ({ value: v })); },
        afterFit: s => { s.height = 134; },
        grid: { display: false },
        border: { display: true, color: '#000', width: 2 },
        ticks: { font: { size: 32 }, color: '#000', padding: -4, maxRotation: 0 }
      },
      y: {
        type: 'linear',
        min: 0,
        max: 11,
        afterBuildTicks: s => {
          const t = [];
          for (let v = 0; v <= 22; v++) t.push({ value: v / 2 });
          s.ticks = t;
        },
        afterFit: s => { s.width = 174; },
        grid: {
          drawTicks: false,
          color: c => (c.tick && Number.isInteger(c.tick.value)) ? '#000' : 'rgba(0,0,0,0)',
          lineWidth: 2
        },
        border: { display: true, color: '#000', width: 2 },
        ticks: {
          autoSkip: false,
          font: { size: 36 },
          color: '#000',
          padding: 22,
          callback: v => Number.isInteger(v) ? '' : stations[Math.round(10.5 - v)]
        }
      }
    }
  },
  plugins: [panelTicks]
});
</script>
</body>
</html>
